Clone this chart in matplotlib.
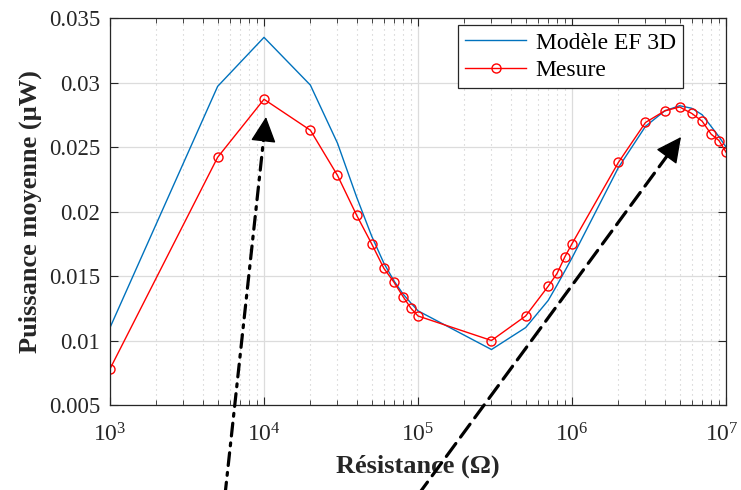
import matplotlib
matplotlib.use("Agg")
import numpy as np
import matplotlib.pyplot as plt
import matplotlib.transforms as mtransforms
from matplotlib.ticker import LogLocator, NullFormatter, FixedLocator, FixedFormatter

plt.rcParams['font.family'] = ['Liberation Serif', 'DejaVu Serif']
plt.rcParams['mathtext.fontset'] = 'custom'
plt.rcParams['mathtext.rm'] = 'Liberation Serif'
plt.rcParams['mathtext.it'] = 'Liberation Serif:italic'
plt.rcParams['mathtext.bf'] = 'Liberation Serif:bold'

# Data
r_model = [1e3, 5e3, 1e4, 2e4, 3e4, 4e4, 5e4, 6e4, 7e4, 8e4, 9e4, 1e5, 3e5, 5e5,
           7e5, 8e5, 9e5, 1e6, 2e6, 3e6, 4e6, 5e6, 6e6, 7e6, 8e6, 9e6, 1e7]
p_model = [0.0110, 0.0297, 0.0335, 0.0298, 0.0253, 0.0211, 0.0181, 0.0160, 0.0146, 0.0136,
           0.0129, 0.0123, 0.0093, 0.0110, 0.0131, 0.0143, 0.0154, 0.0164, 0.0234, 0.0266,
           0.0278, 0.0282, 0.0280, 0.0275, 0.0266, 0.0258, 0.0250]

r_meas = [1e3, 5e3, 1e4, 2e4, 3e4, 4e4, 5e4, 6e4, 7e4, 8e4, 9e4, 1e5, 3e5, 5e5,
          7e5, 8e5, 9e5, 1e6, 2e6, 3e6, 4e6, 5e6, 6e6, 7e6, 8e6, 9e6, 1e7]
p_meas = [0.0078, 0.0242, 0.0287, 0.0263, 0.0228, 0.0197, 0.0175, 0.0156, 0.0145, 0.0134,
          0.0125, 0.0119, 0.0100, 0.0119, 0.0142, 0.0152, 0.0165, 0.0175, 0.0238, 0.0269,
          0.0278, 0.0281, 0.0276, 0.0270, 0.0260, 0.0255, 0.0246]

y_ticks = [0.005, 0.01, 0.015, 0.02, 0.025, 0.03, 0.035]
y_ticklabels = ['0.005', '0.01', '0.015', '0.02', '0.025', '0.03', '0.035']

label_model = 'Modèle EF 3D'
label_meas = 'Mesure'
xlabel = 'Résistance (Ω)'
ylabel = 'Puissance moyenne (µW)'

fig = plt.figure(figsize=(7.41, 4.90), dpi=100)
ax = fig.add_axes([110/741, 85/490, 616/741, 387/490])

ax.plot(r_model, p_model, color='#0072BD', lw=1.0, label=label_model)
ax.plot(r_meas, p_meas, color='red', lw=1.0, marker='o', markersize=6.5,
        markerfacecolor='none', markeredgewidth=1.0, label=label_meas)

ax.set_xscale('log')
ax.set_xlim(1e3, 1e7)
ax.set_ylim(0.005, 0.035)
ax.yaxis.set_major_locator(FixedLocator(y_ticks))
ax.yaxis.set_major_formatter(FixedFormatter(y_ticklabels))
ax.xaxis.set_minor_locator(LogLocator(base=10, subs=range(2, 10), numticks=20))
ax.xaxis.set_minor_formatter(NullFormatter())

ax.grid(True, which='major', color='#dcdcdc', lw=0.9, ls='-')
ax.grid(True, which='minor', axis='x', color='#c8c8c8', lw=0.8, ls=(0, (1, 3.5)))
ax.set_axisbelow(True)

ax.tick_params(which='both', direction='in', top=True, right=True, colors='#262626')
ax.tick_params(which='major', length=6, width=0.8)
ax.tick_params(which='minor', length=3.5, width=0.6)
ax.tick_params(axis='x', labelsize=17, pad=13)
ax.tick_params(axis='y', labelsize=16.5, pad=7)
for s in ax.spines.values():
    s.set_color('#262626')
    s.set_linewidth(0.9)

ax.set_xlabel(xlabel, fontsize=19, fontweight='bold', color='#262626', labelpad=6)
ax.set_ylabel(ylabel, fontsize=19, fontweight='bold', color='#262626', labelpad=5)

leg = ax.legend(loc='upper right', bbox_to_anchor=(0.930, 0.982), fontsize=17,
                frameon=True, fancybox=False, framealpha=1, edgecolor='#262626',
                handlelength=2.6, borderpad=0.3, labelspacing=0.25, handletextpad=0.4,
                borderaxespad=0)
leg.get_frame().set_linewidth(0.9)


# Arrows (figure pixel coordinates, origin bottom-left)
def draw_arrow(start, tip, ls, head_len=16):
    sx, sy = start
    tx, ty = tip
    d = np.hypot(tx - sx, ty - sy)
    ux, uy = (tx - sx) / d, (ty - sy) / d
    base = (tx - ux * head_len, ty - uy * head_len)
    ax.annotate('', xy=base, xytext=start, xycoords='figure pixels',
                textcoords='figure pixels', annotation_clip=False,
                arrowprops=dict(arrowstyle='-', color='k', lw=2.3, linestyle=ls,
                                shrinkA=0, shrinkB=0))
    ax.annotate('', xy=tip, xytext=(tx - ux * (head_len + 1), ty - uy * (head_len + 1)),
                xycoords='figure pixels', textcoords='figure pixels',
                annotation_clip=False,
                arrowprops=dict(arrowstyle='-|>,head_length=0.8,head_width=0.4',
                                color='k', lw=1.0, shrinkA=0, shrinkB=0,
                                mutation_scale=20))


draw_arrow((225, -5), (266, 490 - 117), (0, (4, 2.2, 0.9, 2.2)))
draw_arrow((418, -5), (681, 490 - 137), (0, (5, 2.5)))

# keep the last x tick label (10^7) inside the figure
fig.canvas.draw()
last_tick = ax.xaxis.get_major_ticks()[-1]
for t in ax.xaxis.get_major_ticks():
    if np.isclose(t.get_loc(), 1e7):
        last_tick = t
last_tick.label1.set_transform(last_tick.label1.get_transform() +
                               mtransforms.ScaledTranslation(-4 / 100, 0, fig.dpi_scale_trans))

fig.savefig('out.png', dpi=100)
